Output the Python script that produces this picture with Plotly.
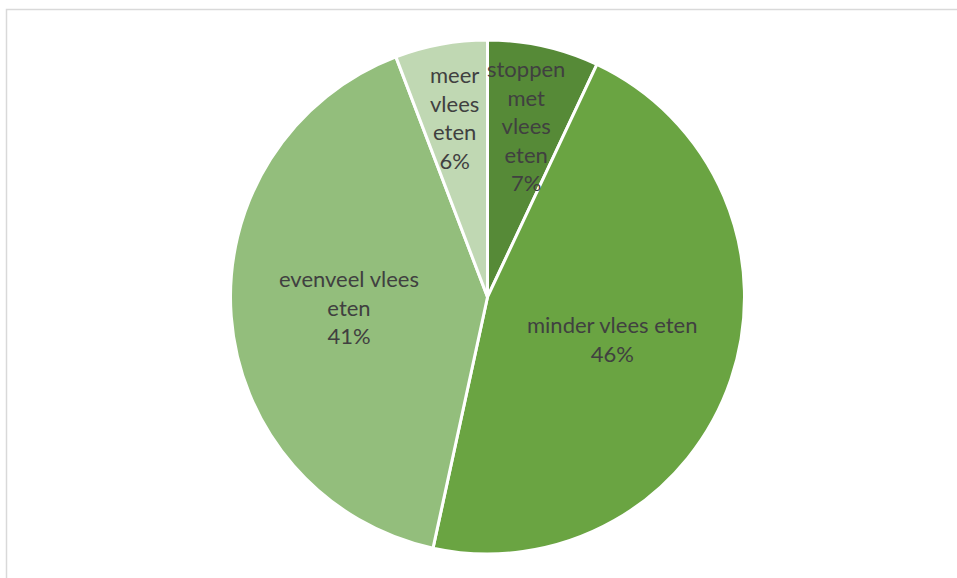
import math
import plotly.graph_objects as go

labels = ["stoppen met vlees eten", "minder vlees eten", "evenveel vlees eten", "meer vlees eten"]
label_text = ["stoppen<br>met<br>vlees<br>eten", "minder vlees eten", "evenveel vlees<br>eten", "meer<br>vlees<br>eten"]
values = [7.0, 46.4, 40.8, 5.8]
colors = ["#568A37", "#6AA442", "#93BE7C", "#C0D8B3"]
label_radius = [0.685, 0.51, 0.54, 0.71]

W, H = 957, 578
cx, cy, R = 487.5, 297, 257

fig = go.Figure(go.Pie(
    labels=labels, values=values, sort=False, direction="clockwise", rotation=0,
    marker=dict(colors=colors, line=dict(color="white", width=3)),
    textinfo="none", hoverinfo="label+percent", showlegend=False,
    domain=dict(x=[(cx - R) / W, (cx + R) / W], y=[1 - (cy + R) / H, 1 - (cy - R) / H]),
))

total = sum(values)
cum = 0
annotations = []
for lab, v, rf in zip(label_text, values, label_radius):
    mid = (cum + v / 2) / total * 2 * math.pi
    cum += v
    px = cx + rf * R * math.sin(mid)
    py = cy - rf * R * math.cos(mid)
    pct = round(v / total * 100)
    annotations.append(dict(
        x=px / W, y=1 - py / H, xref="paper", yref="paper",
        text=f"{lab}<br>{pct}%", showarrow=False,
        font=dict(family="Lato, Carlito, sans-serif", size=22, color="#404040"),
        align="center", xanchor="center", yanchor="middle",
    ))

fig.update_layout(
    width=W, height=H, margin=dict(l=0, r=0, t=0, b=0),
    paper_bgcolor="white", plot_bgcolor="white",
    annotations=annotations,
    shapes=[dict(type="rect", xref="paper", yref="paper",
                 x0=6.5 / W, x1=1.05, y0=-0.05, y1=1 - 9.5 / H,
                 line=dict(color="#D9D9D9", width=1.5), fillcolor="rgba(0,0,0,0)")],
)

fig.write_html("out.html", config={"displayModeBar": False},
               post_script="document.body.style.margin='0';document.body.style.overflow='hidden';")
